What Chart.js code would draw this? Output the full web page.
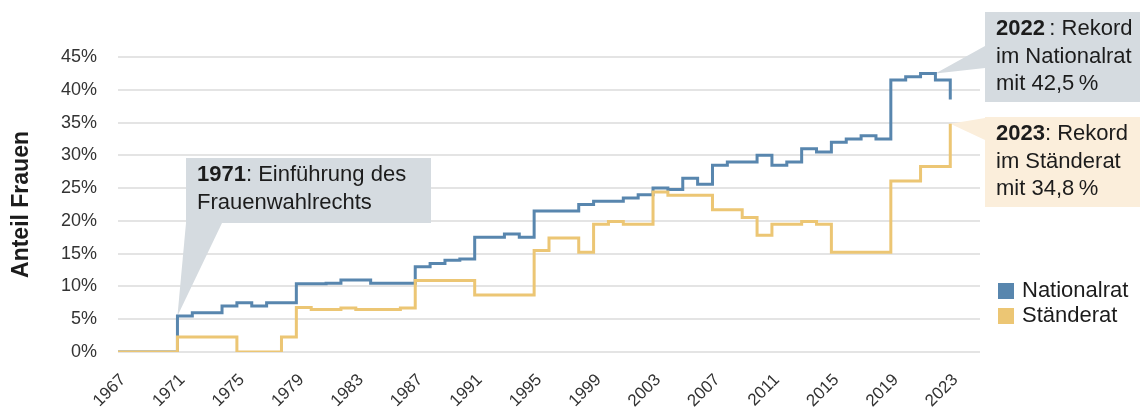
<!DOCTYPE html>
<html lang="de">
<head>
<meta charset="utf-8">
<title>Frauenanteil im Parlament</title>
<script src="https://cdn.jsdelivr.net/npm/chart.js@4.4.1/dist/chart.umd.min.js"></script>
<style>
  html, body { margin: 0; padding: 0; background: #fff; }
  #wrap { width: 1140px; height: 408px; }
</style>
</head>
<body>
<div id="wrap"><canvas id="chart" width="1140" height="408"></canvas></div>
<script>
// Anteil Frauen pro Jahr (in %), Stand jeweils ab Jahresbeginn
const years = [
  1967, 1968, 1969, 1970, 1971, 1972, 1973, 1974, 1975, 1976,
  1977, 1978, 1979, 1980, 1981, 1982, 1983, 1984, 1985, 1986,
  1987, 1988, 1989, 1990, 1991, 1992, 1993, 1994, 1995, 1996,
  1997, 1998, 1999, 2000, 2001, 2002, 2003, 2004, 2005, 2006,
  2007, 2008, 2009, 2010, 2011, 2012, 2013, 2014, 2015, 2016,
  2017, 2018, 2019, 2020, 2021, 2022, 2023
];
const nationalrat = [
  0, 0, 0, 0, 5.5, 6.0, 6.0, 7.0, 7.5, 7.0,
  7.5, 7.5, 10.4, 10.4, 10.5, 11.0, 11.0, 10.5, 10.5, 10.5,
  13.0, 13.5, 14.0, 14.2, 17.5, 17.5, 18.0, 17.5, 21.5, 21.5,
  21.5, 22.5, 23.0, 23.0, 23.5, 24.0, 25.0, 24.8, 26.5, 25.6,
  28.5, 29.0, 29.0, 30.0, 28.5, 29.0, 31.0, 30.5, 32.0, 32.5,
  33.0, 32.5, 41.5, 42.0, 42.5, 41.5, 38.5
];
const staenderat = [
  0, 0, 0, 0, 2.3, 2.3, 2.3, 2.3, 0, 0,
  0, 2.3, 6.8, 6.5, 6.5, 6.7, 6.5, 6.5, 6.5, 6.7,
  10.9, 10.9, 10.9, 10.9, 8.7, 8.7, 8.7, 8.7, 15.5, 17.4,
  17.4, 15.2, 19.5, 19.9, 19.5, 19.5, 24.4, 23.9, 23.9, 23.9,
  21.7, 21.7, 20.5, 17.8, 19.5, 19.5, 19.9, 19.5, 15.2, 15.2,
  15.2, 15.2, 26.1, 26.1, 28.3, 28.3, 34.8
];
const yearTicks = [1967, 1971, 1975, 1979, 1983, 1987, 1991, 1995, 1999, 2003, 2007, 2011, 2015, 2019, 2023];

const BLUE = '#5886ae';
const YELLOW = '#ecc674';
const FONT = '"Liberation Sans", Arial, Helvetica, sans-serif';
const TEXT = '#1c1c1c';

const fmtPct = v => v.toFixed(1).replace('.', ',') + '\u202f%';

// Hinweisboxen: Rahmen in Pixeln, Spitze zeigt auf einen Datenpunkt
const callouts = [
  {
    box: { x: 186, y: 158, w: 245, h: 65 }, fill: '#d5dbe0',
    lines: [[['1971', true], [': Einführung des', false]], [['Frauenwahlrechts', false]]],
    target: { year: 1971, value: nationalrat[years.indexOf(1971)] },
    base: [[186, 223], [222, 223]]
  },
  {
    box: { x: 985, y: 12, w: 160, h: 90 }, fill: '#d5dbe0',
    lines: [[['2022', true], ['\u2009: Rekord', false]], [['im Nationalrat', false]], [['mit ' + fmtPct(Math.max(...nationalrat)), false]]],
    target: { year: 2022, value: Math.max(...nationalrat) },
    base: [[985, 46], [985, 68]]
  },
  {
    box: { x: 985, y: 117, w: 160, h: 90 }, fill: '#fbeedb',
    lines: [[['2023', true], [': Rekord', false]], [['im Ständerat', false]], [['mit ' + fmtPct(Math.max(...staenderat)), false]]],
    target: { year: 2023, value: Math.max(...staenderat) },
    base: [[985, 118], [985, 140]]
  }
];

const calloutPlugin = {
  id: 'callouts',
  beforeDatasetsDraw(chart) {
    const { ctx, scales: { x, y } } = chart;
    ctx.save();
    callouts.forEach(c => {
      const tx = x.getPixelForValue(c.target.year);
      const ty = y.getPixelForValue(c.target.value);
      ctx.fillStyle = c.fill;
      ctx.beginPath();
      ctx.moveTo(c.base[0][0], c.base[0][1]);
      ctx.lineTo(tx, ty);
      ctx.lineTo(c.base[1][0], c.base[1][1]);
      ctx.closePath();
      ctx.fill();
      ctx.fillRect(c.box.x, c.box.y, c.box.w, c.box.h);

      ctx.fillStyle = TEXT;
      ctx.textBaseline = 'middle';
      ctx.textAlign = 'left';
      c.lines.forEach((parts, i) => {
        let px = c.box.x + 11;
        const py = c.box.y + 17 + i * 27.5;
        parts.forEach(([txt, bold]) => {
          ctx.font = (bold ? 'bold ' : '') + '22px ' + FONT;
          ctx.fillText(txt, px, py);
          px += ctx.measureText(txt).width;
        });
      });
    });
    ctx.restore();
  },
  afterDraw(chart) {
    // Legende rechts unten
    const { ctx } = chart;
    ctx.save();
    ctx.font = '22px ' + FONT;
    ctx.textBaseline = 'middle';
    ctx.textAlign = 'left';
    chart.data.datasets.forEach((ds, i) => {
      const top = 283 + i * 25;
      ctx.fillStyle = ds.borderColor;
      ctx.fillRect(998, top, 16, 16);
      ctx.fillStyle = TEXT;
      ctx.fillText(ds.label, 1022, top + 8);
    });
    ctx.restore();
  }
};

const toPoints = vals => years.map((yr, i) => ({ x: yr, y: vals[i] }));

new Chart(document.getElementById('chart').getContext('2d'), {
  type: 'line',
  data: {
    datasets: [
      {
        label: 'Nationalrat',
        data: toPoints(nationalrat),
        borderColor: BLUE,
        borderWidth: 3,
        stepped: 'before',
        pointRadius: 0,
        fill: false,
        order: 1
      },
      {
        label: 'Ständerat',
        data: toPoints(staenderat),
        borderColor: YELLOW,
        borderWidth: 3,
        stepped: 'before',
        pointRadius: 0,
        fill: false,
        order: 0
      }
    ]
  },
  options: {
    responsive: false,
    animation: false,
    layout: { padding: { top: 57, right: 160, left: 0, bottom: 0 } },
    plugins: {
      legend: { display: false },
      tooltip: { enabled: false }
    },
    scales: {
      x: {
        type: 'linear',
        min: 1967,
        max: 2025,
        afterBuildTicks: scale => { scale.ticks = yearTicks.map(v => ({ value: v })); },
        afterFit: scale => { scale.height = 56; },
        grid: { display: false },
        border: { display: false },
        ticks: {
          minRotation: 45,
          maxRotation: 45,
          padding: 10,
          labelOffset: 5,
          color: '#333',
          font: { family: FONT, size: 17 },
          callback: v => String(v)
        }
      },
      y: {
        min: 0,
        max: 45,
        afterFit: scale => { scale.width = 118; },
        grid: { color: '#e4e4e4', lineWidth: 2, drawTicks: false },
        border: { display: false },
        ticks: {
          stepSize: 5,
          padding: 21,
          color: '#333',
          font: { family: FONT, size: 18 },
          callback: v => v + '%'
        },
        title: {
          display: true,
          text: 'Anteil Frauen',
          color: TEXT,
          font: { family: FONT, size: 23, weight: 'bold' },
          padding: { top: 8, bottom: 0 }
        }
      }
    }
  },
  plugins: [calloutPlugin]
});
</script>
</body>
</html>
